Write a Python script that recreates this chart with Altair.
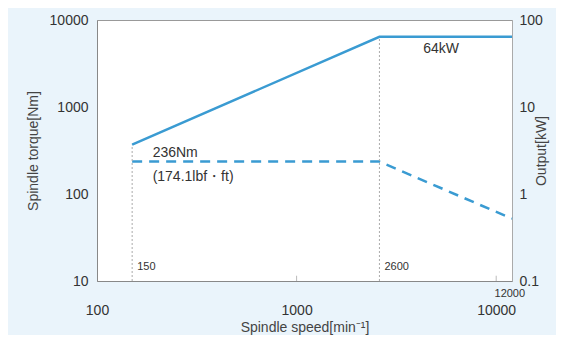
import altair as alt
import pandas as pd

speed = [150, 2600, 12000]
torque_nm = [236, 236, 52]
power_kw = [3.7, 64, 64]
x_ticks = [100, 1000, 10000]
y_left_ticks = [10, 100, 1000, 10000]
y_right_ticks = [0.1, 1, 10, 100]
break_speeds = [150, 2600]
break_tops = [370, 6400]
minor_ticks = [1000, 10000]

BLUE = "#3a9bd2"
TXT = "#333333"
FONT = "Liberation Sans"

df = pd.DataFrame({"speed": speed, "torque": torque_nm, "power": power_kw})
rules = pd.DataFrame({"speed": break_speeds, "lo": [10, 10], "hi": break_tops,
                      "label": ["150", "2600"]})
minor = pd.DataFrame({"speed": minor_ticks, "lo": [10, 10], "hi": [11.5, 11.5]})

xscale = alt.Scale(type="log", domain=[100, 12000], nice=False)
yl = alt.Scale(type="log", domain=[10, 10000], nice=False)
yr = alt.Scale(type="log", domain=[0.1, 100], nice=False)

xaxis = alt.Axis(values=x_ticks, format="d", labelFontSize=14, labelPadding=22,
                 labelFlush=False, labelOverlap=False,
                 ticks=False, grid=False, domainColor="#888", labelColor=TXT,
                 title="Spindle speed[min⁻¹]", titleFontSize=14, titleFontWeight="normal",
                 titleColor="#444", titlePadding=3, labelFont=FONT, titleFont=FONT)

left_axis = alt.Axis(values=y_left_ticks, format="d", labelFontSize=14, labelPadding=9,
                     labelFlush=False, labelOverlap=False,
                     ticks=False, grid=False, domainColor="#888", labelColor=TXT,
                     title="Spindle torque[Nm]", titleFontSize=14, titleFontWeight="normal",
                     titleColor="#444", titlePadding=9, labelFont=FONT, titleFont=FONT)

right_axis = alt.Axis(values=y_right_ticks, labelExpr="datum.value < 1 ? '0.1' : format(datum.value, 'd')",
                      labelFlush=False, labelOverlap=False,
                      labelFontSize=14, labelPadding=7, ticks=False, grid=False,
                      domainColor="#aaa", labelColor=TXT, orient="right",
                      title="Output[kW]", titleFontSize=14, titleFontWeight="normal",
                      titleAngle=270, titleBaseline="bottom",
                      titleColor="#444", titlePadding=6, labelFont=FONT, titleFont=FONT)

base = alt.Chart(df)

torque_line = base.mark_line(color=BLUE, strokeWidth=2.5, strokeDash=[10, 7]).encode(
    x=alt.X("speed:Q", scale=xscale, axis=xaxis),
    y=alt.Y("torque:Q", scale=yl, axis=left_axis),
)

vrules = alt.Chart(rules).mark_rule(color="#aaa", strokeWidth=1, strokeDash=[2, 2]).encode(
    x="speed:Q", y="lo:Q", y2="hi:Q")

mticks = alt.Chart(minor).mark_rule(color="#bbb", strokeWidth=1).encode(
    x="speed:Q", y="lo:Q", y2="hi:Q")

rule_labels = alt.Chart(rules).mark_text(align="left", dx=5, dy=-14, fontSize=11,
                                         color=TXT, font=FONT).encode(
    x="speed:Q", y="lo:Q", text="label:N")

ann = pd.DataFrame({"speed": [190, 190], "torque": [236, 236],
                    "txt": ["236Nm", "(174.1lbf・ft)"]})
t1 = alt.Chart(ann.iloc[[0]]).mark_text(align="left", dy=-9, fontSize=14,
                                       color=TXT, font=FONT).encode(
    x="speed:Q", y="torque:Q", text="txt:N")
t2 = alt.Chart(ann.iloc[[1]]).mark_text(align="left", dy=15, fontSize=14,
                                       color=TXT, font=FONT).encode(
    x="speed:Q", y="torque:Q", text="txt:N")

lbl12k = alt.Chart(pd.DataFrame({"speed": [11700], "v": [10], "t": ["12000"]})).mark_text(
    align="center", dy=13, fontSize=11, color=TXT, font=FONT).encode(
    x="speed:Q", y="v:Q", text="t:N")

left = alt.layer(torque_line, vrules, mticks, rule_labels, t1, t2, lbl12k)

power_line = base.mark_line(color=BLUE, strokeWidth=2.5).encode(
    x=alt.X("speed:Q", scale=xscale, axis=xaxis),
    y=alt.Y("power:Q", scale=yr, axis=right_axis),
)
kw_lbl = alt.Chart(pd.DataFrame({"speed": [5300], "power": [64], "t": ["64kW"]})).mark_text(
    align="center", dy=12, fontSize=14, color=TXT, font=FONT).encode(
    x="speed:Q", y="power:Q", text="t:N")
right = alt.layer(power_line, kw_lbl)

chart = alt.layer(left, right).resolve_scale(y="independent").properties(
    width=415, height=261,
    autosize=alt.AutoSizeParams(type="none"),
    padding={"left": 89, "top": 12, "right": 44, "bottom": 54},
    background="#eaf4fb",
).configure_view(stroke="#999", fill="white", strokeWidth=1)

chart.save("out.html", embed_options={"renderer": "svg", "actions": False})
